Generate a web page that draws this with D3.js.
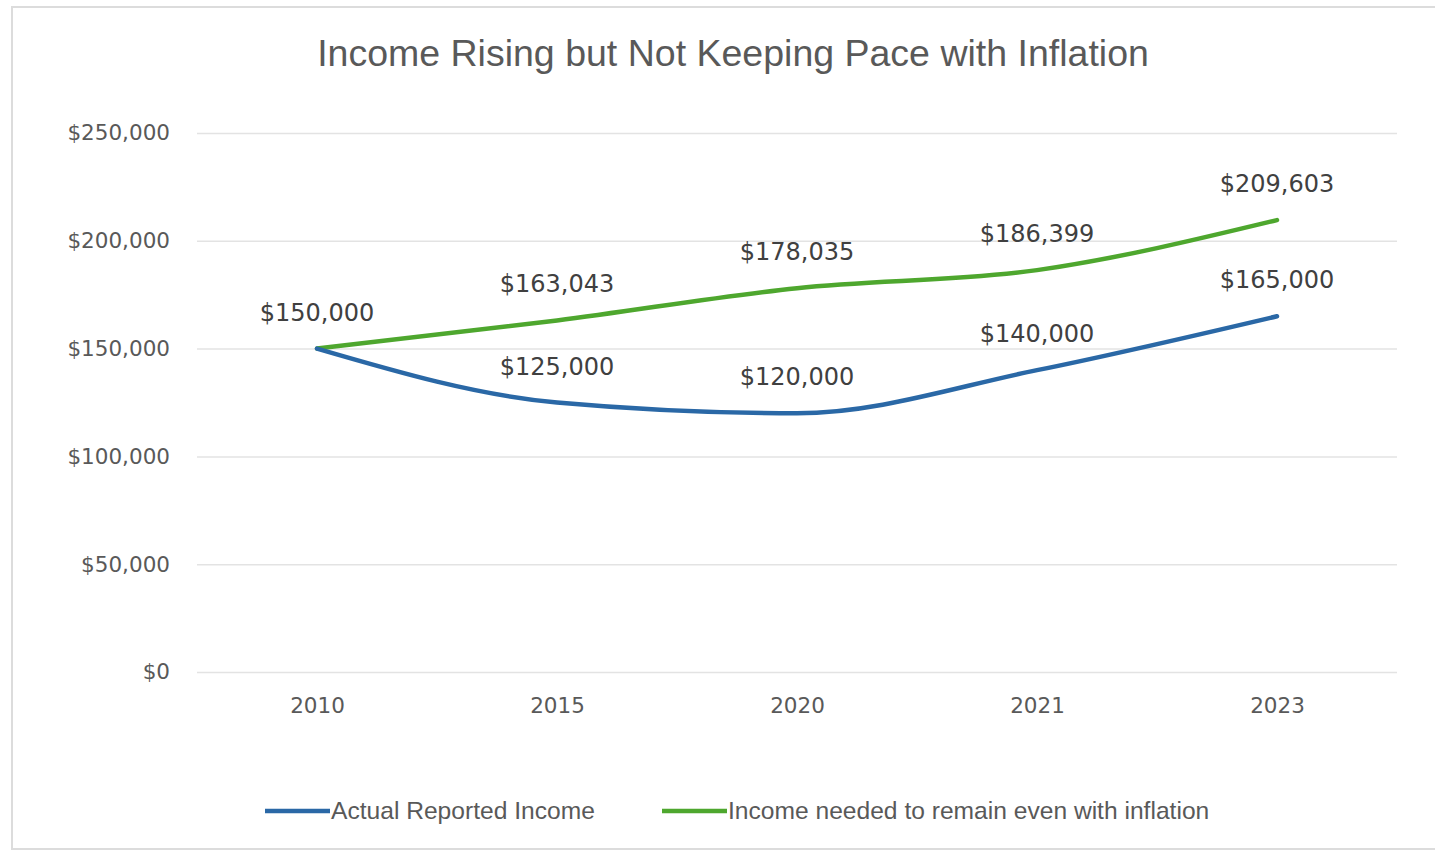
<!DOCTYPE html>
<html>
<head>
<meta charset="utf-8">
<script src="https://cdn.jsdelivr.net/npm/d3@7"></script>
<style>
  body { margin: 0; background: #fff; }
</style>
</head>
<body>
<div id="chart"></div>
<script>
// data
var years = ["2010", "2015", "2020", "2021", "2023"];
var actualIncome = [150000, 125000, 120000, 140000, 165000];
var neededIncome = [150000, 163043, 178035, 186399, 209603];
var yTicks = [0, 50000, 100000, 150000, 200000, 250000];
var seriesNames = ["Actual Reported Income", "Income needed to remain even with inflation"];
var seriesColors = ["#2a68a6", "#4ea72e"];

var W = 1435, H = 851;

var svg = d3.select("#chart")
  .append("svg")
  .attr("width", W)
  .attr("height", H);

// chart border
svg.append("rect")
  .attr("x", 12).attr("y", 7)
  .attr("width", W - 6).attr("height", H - 9)
  .attr("fill", "#fff")
  .attr("stroke", "#dcdcdc")
  .attr("stroke-width", 2);

// title
svg.append("text")
  .attr("x", 733)
  .attr("y", 66)
  .attr("text-anchor", "middle")
  .style("font-family", "'Liberation Sans', Arial, sans-serif")
  .style("font-size", "37.5px")
  .attr("fill", "#595959")
  .text("Income Rising but Not Keeping Pace with Inflation");

// scales
var x = d3.scalePoint()
  .domain(years)
  .range([197, 1397])
  .padding(0.5);

var y = d3.scaleLinear()
  .domain([0, 250000])
  .range([672, 133]);

var fmt = function(v) { return "$" + d3.format(",")(v); };

// gridlines + y labels
var yAxis = svg.append("g")
  .attr("transform", "translate(197,0)")
  .call(d3.axisLeft(y).tickValues(yTicks).tickSize(-1200).tickPadding(27).tickFormat(fmt));
yAxis.select(".domain").remove();
yAxis.selectAll(".tick line").attr("stroke", "#e3e3e3").attr("stroke-width", 1.5);
yAxis.selectAll(".tick text")
  .style("font-size", "21.5px")
  .style("font-family", "'DejaVu Sans', sans-serif")
  .attr("fill", "#595959");

// x labels
var xAxis = svg.append("g")
  .attr("transform", "translate(0,672)")
  .call(d3.axisBottom(x).tickSize(0).tickPadding(26));
xAxis.select(".domain").remove();
xAxis.selectAll(".tick text")
  .style("font-size", "21.5px")
  .style("font-family", "'DejaVu Sans', sans-serif")
  .attr("fill", "#595959");

// lines
var line = d3.line()
  .x(function(d, i) { return x(years[i]); })
  .y(function(d) { return y(d); })
  .curve(d3.curveMonotoneX);

[neededIncome, actualIncome].forEach(function(vals, k) {
  var color = k === 0 ? seriesColors[1] : seriesColors[0];
  svg.append("path")
    .datum(vals)
    .attr("d", line)
    .attr("fill", "none")
    .attr("stroke", color)
    .attr("stroke-width", 4.5)
    .attr("stroke-linecap", "round");
});

// data labels (first blue label hidden, it sits on the green one)
[actualIncome, neededIncome].forEach(function(vals, k) {
  svg.selectAll(".lbl" + k)
    .data(vals)
    .enter()
    .append("text")
    .attr("x", function(d, i) { return x(years[i]); })
    .attr("y", function(d, i) { return y(d) - 28; })
    .attr("text-anchor", "middle")
    .style("font-size", "24px")
    .style("font-family", "'DejaVu Sans', sans-serif")
    .attr("fill", "#404040")
    .text(function(d, i) { return (k === 0 && i === 0) ? "" : fmt(d); });
});

// legend
var legendX = [265, 662];
seriesNames.forEach(function(name, i) {
  svg.append("line")
    .attr("x1", legendX[i]).attr("x2", legendX[i] + 65)
    .attr("y1", 811).attr("y2", 811)
    .attr("stroke", seriesColors[i])
    .attr("stroke-width", 4.5);
  svg.append("text")
    .attr("x", legendX[i] + 66)
    .attr("y", 819)
    .style("font-size", "24.6px")
    .style("font-family", "'Liberation Sans', Arial, sans-serif")
    .attr("fill", "#595959")
    .text(name);
});
</script>
</body>
</html>
